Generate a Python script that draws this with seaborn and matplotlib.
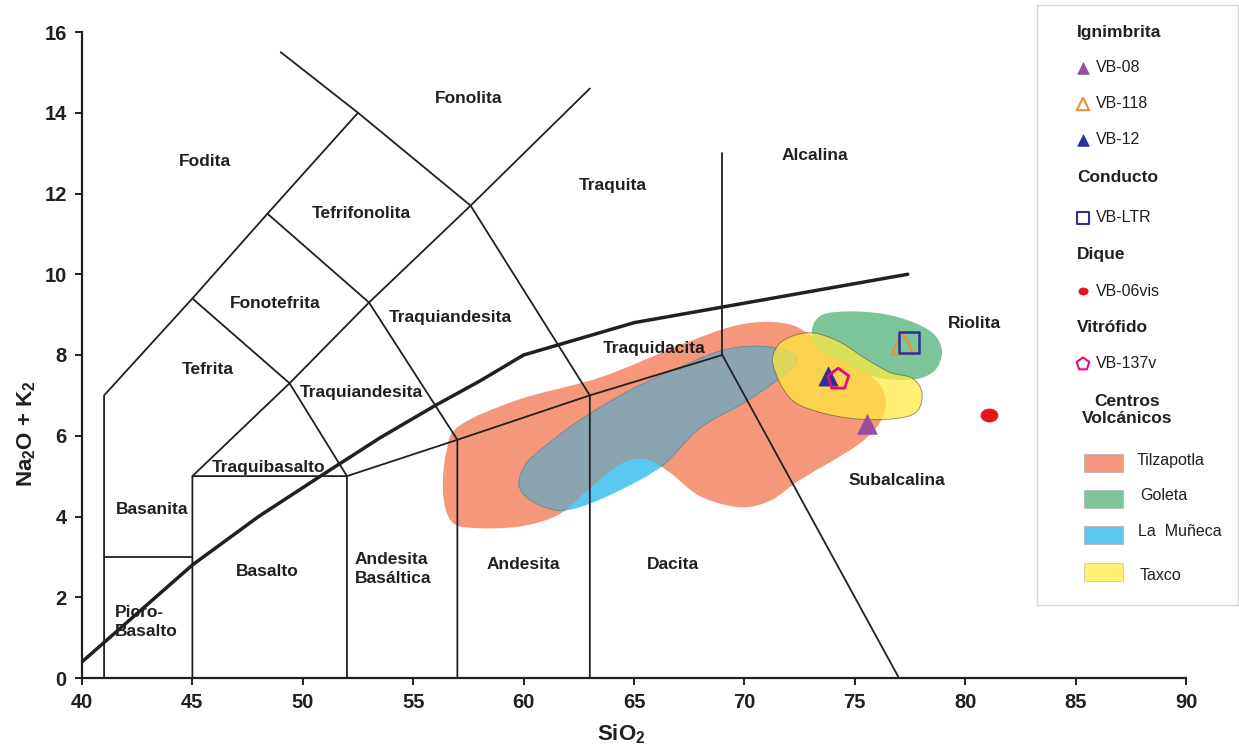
import numpy as np
import pandas as pd
import matplotlib
matplotlib.use("Agg")
import matplotlib.pyplot as plt
from matplotlib.path import Path
from matplotlib.patches import PathPatch, Rectangle
from matplotlib.markers import MarkerStyle
from matplotlib.transforms import Affine2D
import seaborn as sns

# ---------------- data ----------------
# TAS field boundaries (SiO2, Na2O+K2O)
bound_x = [
    [41, 41, 45, 48.4, 52.5, 49.0],
    [41, 45],
    [45, 45, 49.4, 53, 57.6, 63.0],
    [45, 52, 57, 63, 69, 77],
    [45, 49.4, 52, 52],
    [48.4, 53, 57, 57],
    [52.5, 57.6, 63, 63],
    [69, 69],
]
bound_y = [
    [0, 7, 9.4, 11.5, 14, 15.5],
    [3, 3],
    [0, 5, 7.3, 9.3, 11.7, 14.6],
    [5, 5, 5.9, 7, 8, 0],
    [9.4, 7.3, 5, 0],
    [11.5, 9.3, 5.9, 0],
    [14, 11.7, 7, 0],
    [8, 13],
]
# Irvine & Baragar alkaline / subalkaline divide
ib_x = [40, 45, 48, 50.8, 53.5, 56, 58, 60, 65, 77.4]
ib_y = [0.4, 2.8, 4.0, 5.0, 5.95, 6.75, 7.35, 8.0, 8.8, 10.0]

# field names
field_names = ["Fodita", "Fonolita", "Tefrifonolita", "Traquita", "Alcalina",
               "Fonotefrita", "Traquiandesita", "Tefrita", "Traquiandesita",
               "Traquidacita", "Riolita", "Traquibasalto", "Basanita",
               "Subalcalina", "Basalto", "Andesita", "Dacita"]
field_x = [45.56, 57.53, 52.65, 64.05, 73.2, 48.76, 56.67, 45.69, 52.64,
           65.9, 80.44, 48.45, 43.17, 76.89, 48.4, 60.0, 66.77]
field_y = [12.8, 14.36, 11.5, 12.2, 12.95, 9.28, 8.94, 7.65, 7.08,
           8.15, 8.79, 5.22, 4.18, 4.88, 2.65, 2.82, 2.82]
left_names = ["Andesita\nBasáltica", "Picro-\nBasalto"]
left_x = [52.36, 41.5]
left_y = [2.70, 1.39]

# volcanic centre fields (outline points)
tilz_x = [56.35, 56.5, 57.1, 59.8, 63.5, 67.1, 69.4, 70.9, 72.1, 73.0, 74.8,
          76.2, 76.3, 75.2, 72.5, 71.2, 69.8, 68.0, 66.6, 65.5, 64.4, 63.0,
          61.6, 59.8, 57.6, 56.7]
tilz_y = [4.6, 5.6, 6.25, 6.9, 7.45, 8.25, 8.7, 8.82, 8.75, 8.5, 7.9,
          7.2, 6.5, 5.8, 4.9, 4.4, 4.23, 4.5, 5.1, 5.42, 5.3, 4.7,
          4.05, 3.75, 3.72, 3.9]
mun_x = [59.79, 60.06, 60.74, 62.55, 64.82, 67.08, 69.03, 70.71, 72.07, 72.38,
         71.61, 70.03, 67.99, 66.27, 64.37, 62.55, 61.42, 60.29]
mun_y = [4.78, 5.27, 5.64, 6.39, 7.13, 7.70, 8.12, 8.22, 8.07, 7.82,
         7.43, 6.83, 6.19, 5.25, 4.65, 4.23, 4.16, 4.41]
gol_x = [73.06, 73.51, 74.78, 76.37, 77.73, 78.63, 78.95, 78.63, 77.73, 76.14,
         74.78, 73.42]
gol_y = [8.61, 8.99, 9.08, 9.01, 8.79, 8.49, 8.07, 7.62, 7.40, 7.43,
         7.75, 8.12]
tax_x = [71.30, 71.52, 72.29, 73.2, 74.33, 75.46, 76.59, 77.59, 78.04, 77.86,
         77.05, 75.24, 73.42, 72.07]
tax_y = [7.75, 8.24, 8.49, 8.54, 8.32, 7.92, 7.57, 7.43, 7.08, 6.63,
         6.44, 6.41, 6.58, 6.93]

# samples
samples = ["VB-08", "VB-118", "VB-12", "VB-LTR", "VB-06vis", "VB-137v"]
sio2 = [75.55, 77.17, 73.8, 77.45, 81.08, 74.25]
alk = [6.29, 8.29, 7.47, 8.31, 6.51, 7.40]

# ---------------- style ----------------
sns.set_theme(style="white")
plt.rcParams["font.family"] = ["Liberation Sans", "DejaVu Sans"]
plt.rcParams["mathtext.fontset"] = "custom"
plt.rcParams["mathtext.rm"] = "Liberation Sans:bold"
plt.rcParams["mathtext.default"] = "rm"

TXT = "#231f20"
C_TILZ = "#F4977B"
C_MUN = "#5BC8F2"
C_OVER = "#8AA5AF"
C_GOL = "#7DC49A"
C_TAX = "#FFEB3D"

fig = plt.figure(figsize=(12.39, 7.51), dpi=100)
ax = fig.add_axes([82 / 1239, 73 / 751, 1104 / 1239, 646 / 751])
ax.set_xlim(40, 90)
ax.set_ylim(0, 16)


def smooth(xs, ys):
    P = np.column_stack([xs, ys])
    n = len(P)
    verts = [P[0]]
    codes = [Path.MOVETO]
    for i in range(n):
        p0, p1, p2, p3 = P[i - 1], P[i], P[(i + 1) % n], P[(i + 2) % n]
        verts += [p1 + (p2 - p0) / 6, p2 - (p3 - p1) / 6, p2]
        codes += [Path.CURVE4] * 3
    return Path(verts, codes)


tilz = PathPatch(smooth(tilz_x, tilz_y), fc=C_TILZ, ec="none", zorder=1)
ax.add_patch(tilz)
ax.add_patch(PathPatch(smooth(mun_x, mun_y), fc=C_MUN, ec="none", zorder=2))
over = PathPatch(smooth(mun_x, mun_y), fc=C_OVER, ec="#6d8790", lw=0.6, zorder=2.1)
ax.add_patch(over)
over.set_clip_path(tilz)
ax.add_patch(PathPatch(smooth(gol_x, gol_y), fc=C_GOL, ec="none", zorder=3))
ax.add_patch(PathPatch(smooth(tax_x, tax_y), fc=C_TAX, ec="#5a5a3a", lw=0.6,
                       alpha=0.72, zorder=4))

# boundaries
for bx, by in zip(bound_x, bound_y):
    sns.lineplot(x=bx, y=by, sort=False, estimator=None, color=TXT, lw=1.3,
                 ax=ax, zorder=5)
sns.lineplot(x=ib_x, y=ib_y, sort=False, estimator=None, color=TXT, lw=2.5,
             ax=ax, zorder=5)

# field labels
for name, fx, fy in zip(field_names, field_x, field_y):
    ax.text(fx, fy, name, ha="center", va="center", fontsize=12.5,
            fontweight="bold", color=TXT, zorder=6)
for name, fx, fy in zip(left_names, left_x, left_y):
    ax.text(fx, fy, name, ha="left", va="center", fontsize=12.5,
            fontweight="bold", color=TXT, linespacing=1.35, zorder=6)

# samples
ell = MarkerStyle(Path.unit_circle().transformed(Affine2D().scale(1.3, 1.0)))
styles = {
    "VB-08": dict(marker="^", s=200, color="#9B4C9D", edgecolor="#9B4C9D", linewidth=0.5),
    "VB-118": dict(marker="^", s=250, facecolors="none", edgecolors="#E8913A", linewidth=1.8),
    "VB-12": dict(marker="^", s=190, color="#2E3192", edgecolor="#2E3192", linewidth=0.5),
    "VB-LTR": dict(marker="s", s=210, facecolors="none", edgecolors="#2E3192", linewidth=1.8),
    "VB-06vis": dict(marker=ell, s=150, color="#E8141B", edgecolor="#E8141B", linewidth=0.5),
    "VB-137v": dict(marker="p", s=250, facecolors="none", edgecolors="#E5097F", linewidth=2.0),
}
df = pd.DataFrame({"sample": samples, "SiO2": sio2, "alk": alk})
for _, r in df.iterrows():
    sns.scatterplot(x=[r["SiO2"]], y=[r["alk"]], ax=ax, zorder=7, legend=False,
                    **styles[r["sample"]])

# axes styling
for side in ["top", "right"]:
    ax.spines[side].set_visible(False)
for side in ["left", "bottom"]:
    ax.spines[side].set_color(TXT)
    ax.spines[side].set_linewidth(1.6)
ax.set_xticks(np.arange(40, 91, 5))
ax.set_yticks(np.arange(0, 17, 2))
ax.tick_params(axis="both", direction="out", length=5, width=1.4, color=TXT,
               labelsize=14.5, labelcolor=TXT, pad=6, left=True, bottom=True)
for lab in ax.get_xticklabels() + ax.get_yticklabels():
    lab.set_fontweight("bold")
ax.set_xlabel("SiO$_2$", fontsize=16, fontweight="bold", color=TXT)
ax.set_ylabel("Na$_2$O + K$_2$", fontsize=16, fontweight="bold", color=TXT)
ax.xaxis.set_label_coords((621 - 82) / 1104, (678 - 722) / 646)
ax.yaxis.set_label_coords((38 - 82) / 1104, (678 - 434) / 646)
ax.grid(False)

# ---------------- legend panel ----------------
lax = fig.add_axes([1037 / 1239, (751 - 605) / 751, 201 / 1239, 600 / 751])
lax.set_xlim(0, 201)
lax.set_ylim(600, 0)
lax.set_xticks([])
lax.set_yticks([])
for sp in lax.spines.values():
    sp.set_color("#d6d6d6")
    sp.set_linewidth(1.0)
lax.set_facecolor("white")

titles = ["Ignimbrita", "Conducto", "Dique", "Vitrófido"]
title_y = [27, 172, 250, 323]
for t, ty in zip(titles, title_y):
    lax.text(40, ty, t, ha="left", va="center", fontsize=12.5, fontweight="bold", color=TXT)
entry_y = [63, 99, 135, 213, 286, 359]
leg_sizes = {"VB-08": 70, "VB-118": 80, "VB-12": 70, "VB-LTR": 75, "VB-06vis": 45, "VB-137v": 90}
for name, ey in zip(samples, entry_y):
    st = dict(styles[name])
    st["s"] = leg_sizes[name]
    if "linewidth" in st and st["linewidth"] > 1:
        st["linewidth"] = 1.5
    lax.scatter([46], [ey], **st)
    lax.text(59, ey, name, ha="left", va="center", fontsize=11.5, color=TXT)

lax.text(90, 405, "Centros\nVolcánicos", ha="center", va="center", fontsize=12.5,
         fontweight="bold", color=TXT, linespacing=1.1)
centres = ["Tilzapotla", "Goleta", "La  Muñeca", "Taxco"]
centre_cols = [C_TILZ, C_GOL, C_MUN, C_TAX]
centre_alpha = [1, 1, 1, 0.72]
patch_y = [458, 494, 530, 567]
label_x = [100, 103, 101, 103]
label_y = [456, 491, 527, 571]
for name, col, a, py, lx, ly in zip(centres, centre_cols, centre_alpha, patch_y, label_x, label_y):
    lax.add_patch(Rectangle((47, py - 9), 39, 18, fc=col, ec="#b5b5b5", lw=0.6, alpha=a))
    lax.text(lx, ly, name, ha="left", va="center", fontsize=11.5, color=TXT)

fig.savefig("out.png", dpi=100, facecolor="white")
